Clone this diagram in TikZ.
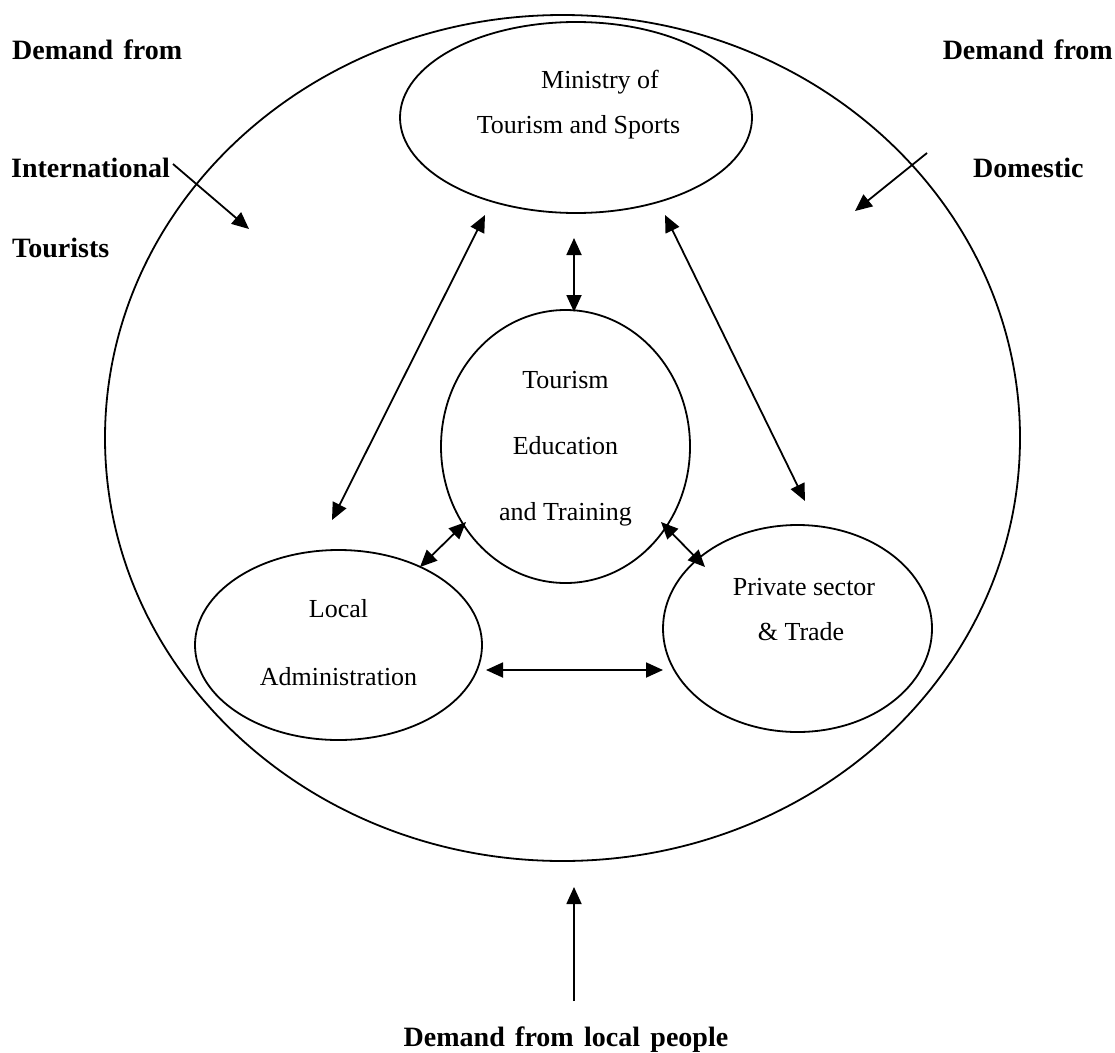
\documentclass[tikz,border=0pt]{standalone}
\usepackage{fontspec}
\setmainfont{Liberation Serif}
\usetikzlibrary{shapes.geometric,arrows.meta}
\begin{document}
\begin{tikzpicture}[x=1pt,y=-1pt,
  oval/.style={draw,ellipse,inner sep=0pt,line width=1.8pt},
  body/.style={font=\fontsize{26}{28}\selectfont,inner sep=0pt,anchor=base},
  demand/.style={font=\fontsize{28}{30}\selectfont\bfseries,inner sep=0pt},
  link/.style={line width=1.8pt,-{Triangle[length=17pt,width=15pt]}},
  twoway/.style={line width=1.8pt,{Triangle[length=17pt,width=15pt]}-{Triangle[length=17pt,width=15pt]}}]
\useasboundingbox (0,0) rectangle (1115,1052);
\fill[white] (0,0) rectangle (1115,1052);

% the surrounding field and the four actors
\node[oval,minimum width=915pt,minimum height=846pt] (field) at (562.5,438) {};
\node[oval,minimum width=352pt,minimum height=191pt] (ministry) at (576,117.5) {};
\node[oval,minimum width=249pt,minimum height=273pt] (education) at (565.5,446.5) {};
\node[oval,minimum width=287pt,minimum height=190pt] (local) at (338.5,645) {};
\node[oval,minimum width=269pt,minimum height=207pt] (private) at (797.5,628.5) {};

% labels inside the actors
\node[body] (minA) at (600,88) {Ministry of};
\node[body] (minB) at (578.5,133) {Tourism and Sports};
\node[body] (eduA) at (565.5,388) {Tourism};
\node[body] (eduB) at (565.5,454) {Education};
\node[body] (eduC) at (565.5,520) {and Training};
\node[body] (locA) at (338.5,617) {Local};
\node[body] (locB) at (338.5,685) {Administration};
\node[body] (priA) at (804,595) {Private sector};
\node[body] (priB) at (801,640) {\& Trade};

% sources of demand
\node[demand,anchor=base west] (intA) at (12,59) {Demand\hspace{0.12em} from};
\node[demand,anchor=base west] (intB) at (11,177) {International};
\node[demand,anchor=base west] (intC) at (12,257) {Tourists};
\node[demand,anchor=base east] (domA) at (1113,59) {Demand\hspace{0.12em} from};
\node[demand,anchor=base west] (domB) at (973,177) {Domestic};
\node[demand,anchor=base] (locDem) at (566,1046) {Demand\hspace{0.12em} from\hspace{0.12em} local\hspace{0.12em} people};

% arrow end points
\coordinate (intS) at (173,164);   \coordinate (intE) at (249,229);
\coordinate (domS) at (927,153);   \coordinate (domE) at (855,211);
\coordinate (locS) at (574,1001);  \coordinate (locE) at (574,887);
\coordinate (me1) at (574,238);    \coordinate (me2) at (574,312);
\coordinate (ml1) at (485,215);    \coordinate (ml2) at (332,520);
\coordinate (mp1) at (665,215);    \coordinate (mp2) at (805,501);
\coordinate (el1) at (466,522);    \coordinate (el2) at (420,567);
\coordinate (ep1) at (661,522);    \coordinate (ep2) at (705,567);
\coordinate (lp1) at (486,670);    \coordinate (lp2) at (663,670);

% demand flowing into the field
\draw[link] (intS) -- (intE);
\draw[link] (domS) -- (domE);
\draw[link] (locS) -- (locE);

% links between the actors
\draw[twoway] (me1) -- (me2);
\draw[twoway] (ml1) -- (ml2);
\draw[twoway] (mp1) -- (mp2);
\draw[twoway] (el1) -- (el2);
\draw[twoway] (ep1) -- (ep2);
\draw[twoway] (lp1) -- (lp2);
\end{tikzpicture}
\end{document}
